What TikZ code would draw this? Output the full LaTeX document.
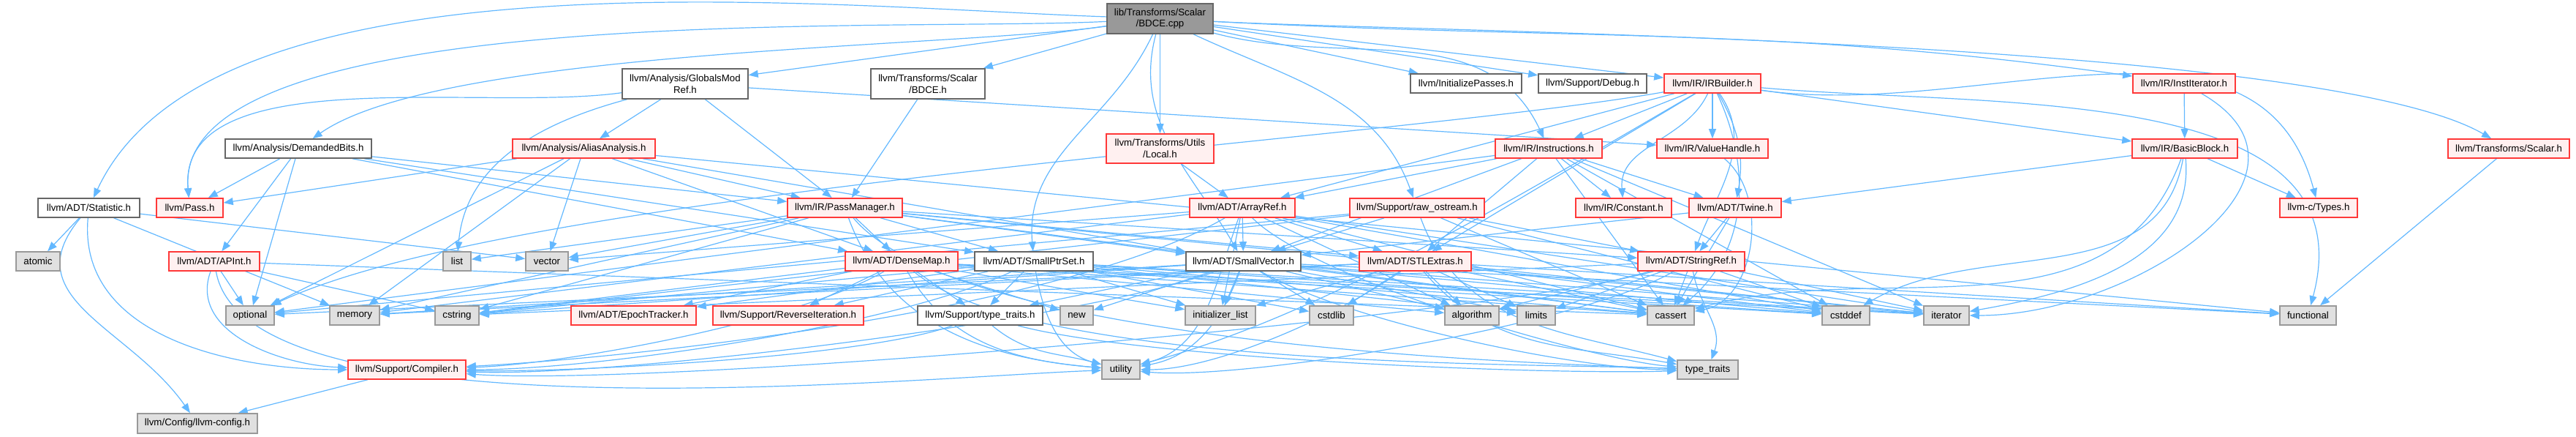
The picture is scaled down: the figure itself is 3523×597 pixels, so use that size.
\documentclass[tikz,border=0pt]{standalone}
\usepackage{fontspec}
\setmainfont{Liberation Sans}
\usetikzlibrary{arrows.meta,backgrounds}
\definecolor{edgec}{HTML}{63B8FF}
\definecolor{redb}{HTML}{FF3838}
\definecolor{redf}{HTML}{FFF0F0}
\definecolor{wb}{HTML}{666666}
\definecolor{gb}{HTML}{999999}
\definecolor{gf}{HTML}{E0E0E0}
\definecolor{rootf}{HTML}{999999}
\definecolor{rootb}{HTML}{666666}
\begin{document}
\begin{tikzpicture}[x=0.1pt,y=-0.1pt,
 box/.style={rectangle, line width=0.16pt, inner sep=0pt, minimum height=2.6pt, align=center, font=\fontsize{1.33}{1.56}\selectfont},
 mw/.style={minimum width=#1*0.1pt},
 rn/.style={box, draw=redb, fill=redf},
 wn/.style={box, draw=wb, fill=white},
 gn/.style={box, draw=gb, fill=gf},
 rootn/.style={box, draw=rootb, fill=rootf},
 two/.style={minimum height=4.1pt},
 e/.style={draw=edgec, line width=0.12pt, -{Triangle[length=1.3pt,width=1.0pt]}},
]
\useasboundingbox (0,0) rectangle (3523,597);
% row 0
\node[rootn,two,mw=145] (bdce) at (1586.5,25.5) {lib/Transforms/Scalar\\/BDCE.cpp};
% row 1
\node[wn,two,mw=172] (gmr) at (937,114.5) {llvm/Analysis/GlobalsMod\\Ref.h};
\node[wn,two,mw=156] (bdceh) at (1269,114.5) {llvm/Transforms/Scalar\\/BDCE.h};
\node[wn,mw=152] (initp) at (2005,114) {llvm/InitializePasses.h};
\node[wn,mw=148] (debug) at (2178,114) {llvm/Support/Debug.h};
\node[rn,mw=132] (irb) at (2342,114) {llvm/IR/IRBuilder.h};
\node[rn,mw=140] (instit) at (2987,114) {llvm/IR/InstIterator.h};
% row 2
\node[wn,mw=200] (dbits) at (408,203) {llvm/Analysis/DemandedBits.h};
\node[rn,mw=195] (aa) at (798.5,203) {llvm/Analysis/AliasAnalysis.h};
\node[rn,two,mw=147,minimum height=4.0pt] (local) at (1586.5,203) {llvm/Transforms/Utils\\/Local.h};
\node[rn,mw=146] (instr) at (2118,203) {llvm/IR/Instructions.h};
\node[rn,mw=152] (vh) at (2342,203) {llvm/IR/ValueHandle.h};
\node[rn,mw=144] (bb) at (2988,203) {llvm/IR/BasicBlock.h};
\node[rn,mw=166] (tscalar) at (3431,203) {llvm/Transforms/Scalar.h};
% row 3
\node[wn,mw=139] (stat) at (121.5,284) {llvm/ADT/Statistic.h};
\node[rn,mw=91] (pass) at (259.5,284) {llvm/Pass.h};
\node[rn,mw=157] (pm) at (1155.5,284) {llvm/IR/PassManager.h};
\node[rn,mw=144] (aref) at (1699,284) {llvm/ADT/ArrayRef.h};
\node[rn,mw=184] (raw) at (1938,284) {llvm/Support/raw\_ostream.h};
\node[rn,mw=131] (const) at (2220.5,284) {llvm/IR/Constant.h};
\node[rn,mw=126] (twine) at (2373,284) {llvm/ADT/Twine.h};
\node[rn,mw=106] (ctypes) at (3171,284) {llvm-c/Types.h};
% row 4
\node[gn,mw=60] (atomic) at (52,357) {atomic};
\node[rn,mw=124] (apint) at (293,357) {llvm/ADT/APInt.h};
\node[gn,mw=38] (nlist) at (625,357) {list};
\node[gn,mw=58] (vector) at (748,357) {vector};
\node[rn,mw=154] (dmap) at (1233,357) {llvm/ADT/DenseMap.h};
\node[wn,mw=162] (sps) at (1414,357) {llvm/ADT/SmallPtrSet.h};
\node[wn,mw=157] (svec) at (1700.5,357) {llvm/ADT/SmallVector.h};
\node[rn,mw=153] (stl) at (1935.5,357) {llvm/ADT/STLExtras.h};
\node[rn,mw=146] (sref) at (2313,357) {llvm/ADT/StringRef.h};
% row 5
\node[gn,mw=66] (optional) at (342,431) {optional};
\node[gn,mw=68] (memory) at (485,431) {memory};
\node[gn,mw=60] (cstring) at (625,431) {cstring};
\node[rn,mw=171] (epoch) at (866.5,431) {llvm/ADT/EpochTracker.h};
\node[rn,mw=206] (revit) at (1078,431) {llvm/Support/ReverseIteration.h};
\node[wn,mw=171] (stt) at (1340.5,431) {llvm/Support/type\_traits.h};
\node[gn,mw=45] (nnew) at (1472.5,431) {new};
\node[gn,mw=96] (initlist) at (1669,431) {initializer\_list};
\node[gn,mw=60] (cstdlib) at (1821,431) {cstdlib};
\node[gn,mw=74] (algorithm) at (2013,431) {algorithm};
\node[gn,mw=52] (limits) at (2101,431) {limits};
\node[gn,mw=64] (cassert) at (2285,431) {cassert};
\node[gn,mw=65] (cstddef) at (2524.5,431) {cstddef};
\node[gn,mw=62] (iterator) at (2662,431) {iterator};
\node[gn,mw=77] (functional) at (3156.5,431) {functional};
% row 6
\node[rn,mw=161] (compiler) at (556.5,505) {llvm/Support/Compiler.h};
\node[gn,mw=52] (utility) at (1533,505) {utility};
\node[gn,mw=83] (typetraits) at (2335.5,505) {type\_traits};
% row 7
\node[gn,mw=164,minimum height=2.7pt] (config) at (270,578.5) {llvm/Config/llvm-config.h};

\begin{scope}[on background layer]
% curved edges
\draw[e] (bdce) to[out=178,in=65,looseness=0.7] (stat);
\draw[e] (bdce) to[out=183,in=95,looseness=0.55] (pass);
\draw[e] (bdce) to[out=188,in=35,looseness=0.5] (dbits);
\draw[e] (bdce) to[out=-3,in=172] (instit);
\draw[e] (bdce) to[out=-3,in=150,looseness=0.4] (tscalar);
\draw[e] (bdce) to[out=-15,in=115] (instr);
\draw[e] (bdce) to[out=-25,in=110] (raw);
\draw[e] (bdce) to[out=-115,in=95] (sps);
\draw[e] (bdce) to[out=-105,in=120] (svec);
\draw[e] (gmr) to[out=188,in=95,looseness=0.8] (pass);
\draw[e] (gmr) to[out=195,in=85] (nlist);
\draw[e] (stat) to[out=-130,in=125,looseness=1.2] (config);
\draw[e] (stat) to[out=-95,in=180] (compiler);
\draw[e] (irb) to[out=-55,in=70] (sref);
\draw[e] (irb) to[out=-60,in=80] (twine);
\draw[e] (irb) to[out=-115,in=95] (const);
\draw[e] (irb) to[out=-65,in=40] (cassert);
\draw[e] (irb) to[out=-150,in=15,looseness=0.8] (utility);
\draw[e] (irb) to[out=-5,in=75] (functional);
\draw[e] (irb) to[out=-8,in=105] (ctypes);
\draw[e] (irb) to[out=190,in=25,looseness=0.5] (optional);
\draw[e] (instit) to[out=-30,in=0,looseness=1.3] (iterator);
\draw[e] (vh) to[out=-40,in=10] (cassert);
\draw[e] (bb) to[out=-110,in=15] (cassert);
\draw[e] (bb) to[out=-100,in=30] (cstddef);
\draw[e] (bb) to[out=-85,in=10] (iterator);
\draw[e] (pm) to[out=-50,in=178,looseness=0.5] (typetraits);
\draw[e] (pm) to[out=-70,in=175] (utility);
\draw[e] (aref) to[out=-150,in=3,looseness=0.6] (compiler);
\draw[e] (aref) to[out=-110,in=15] (utility);
\draw[e] (aref) to[out=-45,in=175,looseness=0.5] (typetraits);
\draw[e] (raw) to[out=-70,in=165] (typetraits);
\draw[e] (apint) to[out=-110,in=178] (compiler);
\draw[e] (apint) to[out=-80,in=182,looseness=0.5] (utility);
\draw[e] (dmap) to[out=-150,in=2,looseness=0.6] (compiler);
\draw[e] (dmap) to[out=-60,in=175] (utility);
\draw[e] (dmap) to[out=-40,in=178,looseness=0.5] (typetraits);
\draw[e] (sps) to[out=-155,in=0,looseness=0.6] (compiler);
\draw[e] (sps) to[out=-80,in=165] (utility);
\draw[e] (svec) to[out=-160,in=-2,looseness=0.5] (compiler);
\draw[e] (svec) to[out=-110,in=10] (utility);
\draw[e] (svec) to[out=-30,in=180,looseness=0.6] (typetraits);
\draw[e] (stl) to[out=-145,in=0,looseness=0.7] (utility);
\draw[e] (stl) to[out=-50,in=170] (typetraits);
\draw[e] (sref) to[out=-165,in=-4,looseness=0.4] (compiler);
\draw[e] (sref) to[out=-150,in=-5,looseness=0.5] (utility);
\draw[e] (sref) to[out=-80,in=70] (typetraits);
\draw[e] (stt) to[out=-160,in=-1,looseness=0.5] (compiler);
\draw[e] (stt) to[out=-40,in=165] (utility);
\draw[e] (stt) to[out=-15,in=182,looseness=0.5] (typetraits);
% straight edges
\foreach \s/\t in {bdce/gmr, bdce/bdceh, bdce/local, bdce/initp, bdce/debug, bdce/irb,
 stat/atomic, stat/memory, stat/vector,
 dbits/pass, dbits/apint, dbits/optional, dbits/dmap, dbits/sps, dbits/pm,
 gmr/aa, gmr/pm, gmr/vh,
 aa/pass, aa/pm, aa/dmap, aa/svec, aa/optional, aa/memory, aa/vector, aa/functional,
 bdceh/pm, local/aref,
 irb/aref, irb/stl, irb/bb, irb/instr, irb/vh,
 instit/bb, tscalar/functional,
 instr/aref, instr/stl, instr/svec, instr/twine, instr/const, instr/cassert, instr/cstddef, instr/iterator, instr/optional,
 bb/twine, bb/ctypes,
 pm/dmap, pm/stl, pm/sps, pm/svec, pm/sref, pm/cassert, pm/cstring, pm/iterator, pm/nlist, pm/memory, pm/vector,
 aref/svec, aref/stl, aref/algorithm, aref/cassert, aref/cstddef, aref/initlist, aref/iterator, aref/memory, aref/vector,
 raw/svec, raw/sref, raw/cassert, raw/cstddef, raw/cstring, raw/optional,
 twine/sref, twine/svec, twine/cassert,
 apint/optional, apint/cstring, apint/cassert,
 dmap/epoch, dmap/revit, dmap/stt, dmap/algorithm, dmap/cassert, dmap/cstddef, dmap/cstring, dmap/initlist, dmap/iterator, dmap/nnew,
 sps/epoch, sps/revit, sps/stt, sps/cassert, sps/cstddef, sps/cstdlib, sps/cstring, sps/initlist, sps/iterator, sps/limits,
 svec/stt, svec/algorithm, svec/cassert, svec/cstddef, svec/cstdlib, svec/cstring, svec/functional, svec/initlist, svec/iterator, svec/limits, svec/memory, svec/nnew,
 stl/algorithm, stl/cassert, stl/cstddef, stl/cstdlib, stl/functional, stl/initlist, stl/iterator, stl/limits, stl/memory, stl/optional,
 sref/algorithm, sref/cassert, sref/cstddef, sref/cstring, sref/iterator, sref/limits,
 compiler/config}
 \draw[e] (\s) -- (\t);
\end{scope}
\end{tikzpicture}
\end{document}
